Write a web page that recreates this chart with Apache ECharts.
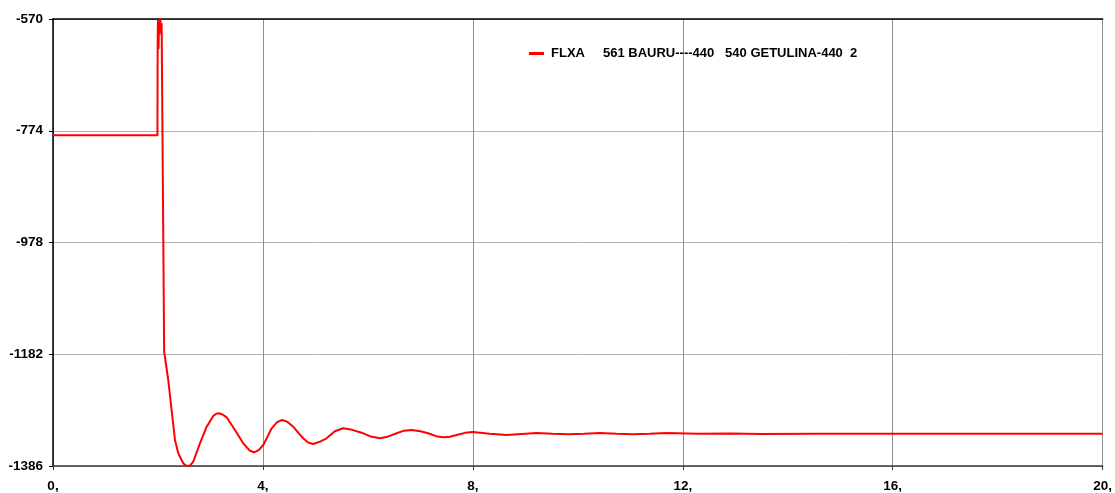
<!DOCTYPE html>
<html>
<head>
<meta charset="utf-8">
<title>FLXA 561 BAURU-440 540 GETULINA-440</title>
<script src="https://cdn.jsdelivr.net/npm/echarts@6/dist/echarts.min.js"></script>
<style>
  html, body { margin: 0; padding: 0; background: #ffffff; }
  #chart { width: 1115px; height: 493px; }
</style>
</head>
<body>
<div id="chart"></div>
<script>
// Branch flow FLXA between buses 561 BAURU-440 and 540 GETULINA-440, circuit 2
const seriesName = 'FLXA     561 BAURU----440   540 GETULINA-440  2';

// Time (s)
const timeS = [
  0, 1.99, 1.995, 2.0, 2.01, 2.02, 2.03, 2.045, 2.055, 2.07, 2.09, 2.118,
  2.196, 2.324, 2.387, 2.482, 2.53, 2.577, 2.62, 2.672, 2.8, 2.928, 3.053,
  3.11, 3.162, 3.23, 3.309, 3.467, 3.625, 3.752, 3.829, 3.92, 4.006, 4.09,
  4.166, 4.27, 4.368, 4.47, 4.577, 4.68, 4.768, 4.86, 4.958, 5.1, 5.213,
  5.37, 5.53, 5.7, 5.88, 6.05, 6.229, 6.39, 6.547, 6.69, 6.832, 7.0, 7.149,
  7.3, 7.434, 7.56, 7.69, 7.85, 8.0, 8.32, 8.64, 8.93, 9.21, 9.52, 9.82,
  10.12, 10.42, 10.74, 11.05, 11.37, 11.69, 12.3, 12.9, 13.5, 14.5, 16.0,
  18.0, 20.0
];

// Active power flow (MW)
const flowMW = [
  -782, -782, -600, -572, -625, -575, -598, -566, -590, -578, -575, -1177,
  -1229, -1338.5, -1362.8, -1381.1, -1385, -1386, -1384.5, -1378.2, -1344.6, -1314.3, -1294.7,
  -1290.5, -1289.8, -1292, -1297.1, -1320.3, -1344.6, -1358.1, -1361, -1357, -1347.7, -1332,
  -1317.2, -1306, -1302, -1305.5, -1314.3, -1326, -1335.4, -1343, -1345.8, -1341, -1335.4,
  -1322.5, -1317.2, -1320, -1325.2, -1332, -1335.4, -1332, -1326.3, -1321.5, -1320.3, -1322.5, -1326.3,
  -1331.5, -1333.6, -1332.5, -1329.4, -1325.5, -1324, -1327, -1329.4, -1327.5, -1325.8, -1327, -1328,
  -1327, -1325.8, -1327, -1328, -1327, -1325.8, -1327, -1326.5, -1327.5, -1327, -1327.2,
  -1327, -1327
];

// Axis ticks
const xTicks = [0, 4, 8, 12, 16, 20];
const yTicks = [-1386, -1182, -978, -774, -570];

const labelFont = {
  fontFamily: 'Liberation Sans, Arial, sans-serif',
  fontWeight: 'bold',
  color: '#000000'
};

const chart = echarts.init(document.getElementById('chart'), null, { renderer: 'canvas' });

chart.setOption({
  animation: false,
  backgroundColor: '#ffffff',
  grid: { left: 53, right: 12, top: 19, bottom: 27 },
  legend: {
    left: 529,
    top: 47,
    padding: 0,
    icon: 'rect',
    itemWidth: 15,
    itemHeight: 3,
    data: [seriesName],
    textStyle: Object.assign({ fontSize: 13, padding: [0, 0, 0, 2] }, labelFont)
  },
  xAxis: [
    {
      type: 'value',
      position: 'bottom',
      min: xTicks[0],
      max: xTicks[xTicks.length - 1],
      interval: xTicks[1] - xTicks[0],
      axisLine: { show: true, onZero: false, lineStyle: { color: '#3a3a3a', width: 1.5 } },
      axisTick: { show: true, length: 4, lineStyle: { color: '#3a3a3a' } },
      axisLabel: Object.assign({ fontSize: 13.5, margin: 13, formatter: v => v + ',' }, labelFont),
      splitLine: { show: true, lineStyle: { color: '#8f8f8f', width: 1 } }
    },
    {
      type: 'value',
      position: 'top',
      min: xTicks[0],
      max: xTicks[xTicks.length - 1],
      axisLine: { show: true, onZero: false, lineStyle: { color: '#000000', width: 1.5 } },
      axisTick: { show: false },
      axisLabel: { show: false },
      splitLine: { show: false }
    }
  ],
  yAxis: {
    type: 'value',
    min: yTicks[0],
    max: yTicks[yTicks.length - 1],
    axisLine: { show: true, onZero: false, lineStyle: { color: '#000000', width: 1.5 } },
    axisTick: { show: true, length: 4, customValues: yTicks, lineStyle: { color: '#000000' } },
    axisLabel: Object.assign({ fontSize: 13.5, margin: 10, customValues: yTicks, formatter: v => String(v) }, labelFont),
    splitLine: { show: true, lineStyle: { color: '#b4b4b4', width: 1 } }
  },
  series: [
    {
      name: seriesName,
      type: 'line',
      xAxisIndex: 0,
      data: timeS.map((t, i) => [t, flowMW[i]]),
      showSymbol: false,
      symbol: 'none',
      clip: true,
      lineStyle: { color: '#ff0000', width: 2 },
      itemStyle: { color: '#ff0000' }
    }
  ]
});
</script>
</body>
</html>
